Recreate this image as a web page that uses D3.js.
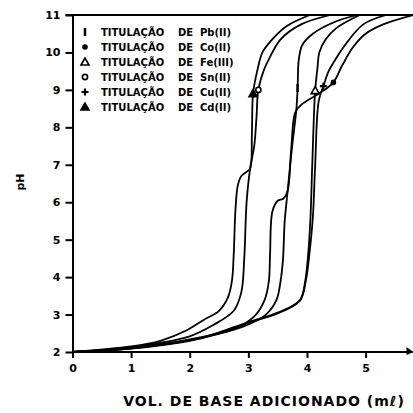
<!DOCTYPE html>
<html>
<head>
<meta charset="utf-8">
<script src="https://cdn.jsdelivr.net/npm/d3@7/dist/d3.min.js"></script>
<style>
  body { margin: 0; background: #fff; }
  svg text { font-family: "DejaVu Sans", sans-serif; font-weight: bold; fill: #000; }
</style>
</head>
<body>
<div class="chart"></div>
<script>
var svgWidth = 413;
var svgHeight = 413;

// titulantes / legend
var metals = ["Pb(II)", "Co(II)", "Fe(III)", "Sn(II)", "Cu(II)", "Cd(II)"];
var symbols = ["bar", "dot", "triOpen", "circOpen", "plus", "triFill"];

var xTicks = [0, 1, 2, 3, 4, 5];
var yTicks = [2, 3, 4, 5, 6, 7, 8, 9, 10, 11];

// curves: [vol (mL), pH]
var curvePb = [[0,2],[1,2.11],[2,2.34],[2.91,2.68],[3.3,3.0],[3.48,3.39],[3.55,3.9],[3.59,4.46],[3.62,5.5],[3.66,6.14],[3.74,7.4],[3.82,8.5],[3.84,9.05],[3.86,9.8],[3.92,10.2],[4.1,10.5],[4.45,10.8],[4.85,11]];
var curveCo = [[0,2],[1,2.1],[2,2.32],[2.74,2.6],[3.1,2.95],[3.28,3.4],[3.35,3.9],[3.37,4.6],[3.41,5.75],[3.5,6.04],[3.6,6.1],[3.67,6.3],[3.73,7.4],[3.8,8.4],[3.9,8.6],[4.15,8.85],[4.3,9.0],[4.45,9.2],[4.6,9.65],[4.79,10.15],[5.0,10.5],[5.3,10.75],[5.81,11]];
var curveFe = [[0,2],[1,2.1],[2.18,2.37],[3.0,2.8],[3.5,3.05],[3.88,3.39],[3.97,3.9],[4.02,4.6],[4.06,5.6],[4.09,7.0],[4.14,9.0],[4.18,9.6],[4.21,10.0],[4.32,10.35],[4.5,10.65],[4.9,11]];
var curveSn = [[0,2],[1,2.13],[2,2.42],[2.4,2.72],[2.75,3.1],[2.88,3.6],[2.93,4.5],[2.97,6.0],[3.03,6.9],[3.1,7.5],[3.14,8.3],[3.17,9.0],[3.27,9.55],[3.36,9.85],[3.55,10.35],[3.9,10.75],[4.4,11]];
var curveCu = [[0,2],[1,2.09],[2.18,2.36],[3.0,2.78],[3.5,3.03],[3.88,3.37],[3.98,3.9],[4.04,4.6],[4.1,5.6],[4.14,7.0],[4.2,8.7],[4.28,9.1],[4.37,9.5],[4.5,9.85],[4.65,10.2],[4.96,10.75],[5.35,11]];
var curveCd = [[0,2],[1,2.15],[1.5,2.3],[1.95,2.58],[2.23,2.85],[2.5,3.1],[2.65,3.45],[2.72,3.9],[2.75,4.6],[2.78,5.8],[2.82,6.45],[2.88,6.7],[2.96,6.8],[3.03,6.9],[3.06,7.8],[3.08,8.9],[3.15,9.5],[3.24,10.0],[3.38,10.3],[3.65,10.7],[4.05,11]];

var curves = [curvePb, curveCo, curveFe, curveSn, curveCu, curveCd];
// symbol positions on each curve
var markPoints = [[3.84, 9.05], [4.45, 9.2], [4.14, 8.98], [3.17, 9.0], [4.28, 9.1], [3.08, 8.9]];

var svg = d3.select(".chart")
  .append("svg")
  .attr("width", svgWidth)
  .attr("height", svgHeight);

var x = d3.scaleLinear().domain([0, 5.8]).range([72.5, 412.5]);
var y = d3.scaleLinear().domain([2, 11]).range([352, 15]);

var line = d3.line()
  .x(function(d) { return x(d[0]); })
  .y(function(d) { return y(d[1]); })
  .curve(d3.curveCatmullRom.alpha(0.5));

// curves
svg.append("g").selectAll("path")
  .data(curves)
  .enter().append("path")
  .attr("d", line)
  .attr("fill", "none")
  .attr("stroke", "#000")
  .attr("stroke-width", 1.8);

// symbol drawing
function drawSymbol(g, type, cx, cy) {
  if (type == "bar") {
    g.append("line").attr("x1", cx).attr("x2", cx).attr("y1", cy - 4).attr("y2", cy + 4)
      .attr("stroke", "#000").attr("stroke-width", 2.5);
  } else if (type == "dot") {
    g.append("circle").attr("cx", cx).attr("cy", cy).attr("r", 2.8).attr("fill", "#000");
  } else if (type == "circOpen") {
    g.append("circle").attr("cx", cx).attr("cy", cy).attr("r", 2.6)
      .attr("fill", "#fff").attr("stroke", "#000").attr("stroke-width", 1.6);
  } else if (type == "plus") {
    g.append("path").attr("d", "M" + (cx - 3.5) + "," + cy + "h7M" + cx + "," + (cy - 3.5) + "v7")
      .attr("stroke", "#000").attr("stroke-width", 2.2);
  } else {
    var pts = [[cx, cy - 4], [cx - 4, cy + 3], [cx + 4, cy + 3]];
    g.append("path").attr("d", "M" + pts.join("L") + "Z")
      .attr("fill", type == "triFill" ? "#000" : "#fff")
      .attr("stroke", "#000").attr("stroke-width", 1.6);
  }
}

var marks = svg.append("g");
markPoints.forEach(function(p, i) {
  drawSymbol(marks, symbols[i], x(p[0]), y(p[1]));
});

// axes
var leftAxis = d3.axisLeft(y).tickValues(yTicks).tickFormat(d3.format("d"))
  .tickSize(7).tickSizeOuter(0).tickPadding(5);
var bottomAxis = d3.axisBottom(x).tickValues(xTicks).tickFormat(d3.format("d"))
  .tickSize(6).tickSizeOuter(0).tickPadding(6);

var gy = svg.append("g").attr("transform", "translate(" + x(0) + ",0)").call(leftAxis);
var gx = svg.append("g").attr("transform", "translate(0," + y(2) + ")").call(bottomAxis);
[gy, gx].forEach(function(g) {
  g.selectAll("path, line").attr("stroke", "#000").attr("stroke-width", 2);
  g.selectAll("text").style("font-size", "11px").attr("fill", "#000");
});
gx.select(".domain").attr("d", "M" + x(0) + ",0H" + x(5.8));

// top frame line
svg.append("line")
  .attr("x1", x(0) - 7).attr("x2", svgWidth)
  .attr("y1", y(11)).attr("y2", y(11))
  .attr("stroke", "#000").attr("stroke-width", 2);

// arrow head at the end of the x axis
svg.append("path")
  .attr("d", "M" + (x(5.8) - 6) + "," + (y(2) - 5) + "L" + (x(5.8) + 1) + "," + y(2) + "L" + (x(5.8) - 6) + "," + (y(2) + 3) + "Z")
  .attr("fill", "#000");

// axis titles
svg.append("text")
  .attr("x", 264).attr("y", 406)
  .attr("text-anchor", "middle")
  .style("font-size", "14px")
  .style("letter-spacing", "1px")
  .text("VOL. DE BASE ADICIONADO (mℓ)");

svg.append("text")
  .attr("transform", "translate(24,182) rotate(-90)")
  .attr("text-anchor", "middle")
  .style("font-size", "11px")
  .text("pH");

// legend
var legend = svg.append("g");
metals.forEach(function(m, i) {
  var ly = 32 + i * 15;
  drawSymbol(legend, symbols[i], 85, ly);
  legend.append("text").attr("x", 101).attr("y", ly + 4).style("font-size", "10px").text("TITULAÇÃO");
  legend.append("text").attr("x", 178).attr("y", ly + 4).style("font-size", "10px").text("DE");
  legend.append("text").attr("x", 200).attr("y", ly + 4).style("font-size", "10px").text(m);
});
</script>
</body>
</html>
